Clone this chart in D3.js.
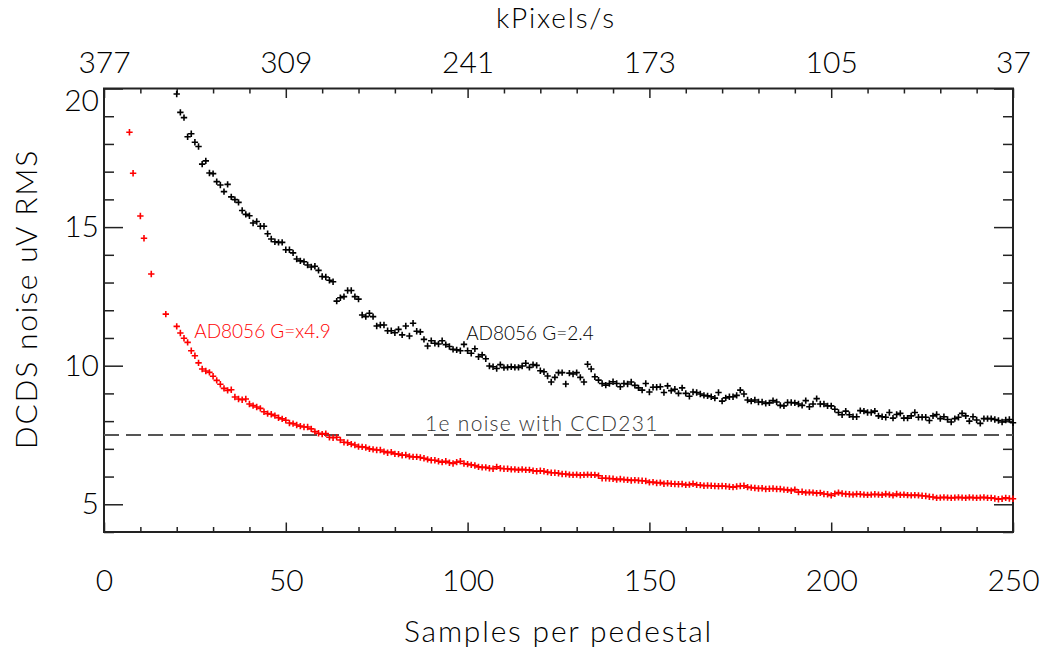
<!DOCTYPE html>
<html lang="en">
<head>
<meta charset="utf-8">
<title>DCDS noise vs samples per pedestal</title>
<style>
  body { margin: 0; background: #fff; }
  text { font-family: "Lato", "DejaVu Sans", sans-serif; font-weight: 300; }
  .axis text { font-size: 30px; fill: #000; }
  .axis line { stroke: #222; stroke-width: 1.5; }
  .axis path { display: none; }
  .frame { fill: none; stroke: #222; stroke-width: 2; }
  .axis-title { font-size: 30px; fill: #000; text-anchor: middle; letter-spacing: 1.8px; }
  .label { font-size: 19px; }
  .mark { fill: none; stroke-width: 1.6; }
</style>
</head>
<body>
<div id="chart"></div>
<script src="https://cdn.jsdelivr.net/npm/d3@7/dist/d3.min.js"></script>
<script>

// bottom axis ticks and the matching pixel rate shown on top
var xTicks = [0, 50, 100, 150, 200, 250];
var topTickLabels = ["377", "309", "241", "173", "105", "37"];
var yTicks = [5, 10, 15, 20];
var threshold = 7.5;

// AD8056 G=2.4, one point per sample from 20 to 250
var blackStart = 20;
var blackNoise = [
  19.80, 19.14, 18.95, 18.26, 18.37, 18.06, 17.91, 17.27, 17.39, 16.95,
  16.93, 16.64, 16.52, 16.28, 16.54, 16.09, 15.99, 15.89, 15.60, 15.46,
  15.41, 15.15, 15.20, 15.03, 15.03, 14.76, 14.57, 14.47, 14.45, 14.45,
  14.18, 14.18, 14.07, 13.85, 13.78, 13.75, 13.63, 13.56, 13.59, 13.44,
  13.22, 13.20, 13.08, 13.03, 12.33, 12.45, 12.49, 12.71, 12.71, 12.49,
  12.40, 11.83, 11.77, 11.89, 11.77, 11.43, 11.47, 11.47, 11.26, 11.26,
  11.19, 11.31, 11.11, 11.43, 11.07, 11.53, 11.24, 11.22, 10.95, 10.71,
  10.90, 10.81, 10.78, 10.90, 10.76, 10.69, 10.59, 10.57, 10.54, 10.77,
  10.54, 10.45, 10.61, 10.32, 10.39, 10.25, 9.99, 9.96, 9.90, 10.04,
  9.93, 9.94, 9.96, 9.94, 9.94, 9.99, 10.09, 9.94, 10.04, 10.01,
  9.82, 9.78, 9.63, 9.41, 9.58, 9.75, 9.75, 9.34, 9.73, 9.70,
  9.75, 9.58, 9.41, 10.05, 9.88, 9.60, 9.48, 9.36, 9.30, 9.36,
  9.42, 9.36, 9.24, 9.36, 9.34, 9.41, 9.29, 9.20, 9.12, 9.36,
  9.05, 9.22, 9.22, 9.24, 9.03, 9.27, 9.10, 9.15, 9.00, 9.20,
  9.00, 8.90, 9.05, 9.03, 8.98, 8.93, 8.91, 8.88, 8.83, 9.03,
  8.72, 8.84, 8.88, 8.88, 8.93, 9.12, 8.98, 8.76, 8.72, 8.76,
  8.69, 8.69, 8.64, 8.66, 8.74, 8.69, 8.57, 8.55, 8.67, 8.67,
  8.66, 8.62, 8.57, 8.74, 8.52, 8.62, 8.81, 8.62, 8.62, 8.55,
  8.55, 8.43, 8.31, 8.23, 8.36, 8.23, 8.16, 8.16, 8.38, 8.36,
  8.31, 8.31, 8.36, 8.19, 8.16, 8.14, 8.31, 8.11, 8.24, 8.28,
  8.11, 8.11, 8.19, 8.31, 8.14, 8.14, 8.14, 8.02, 8.19, 8.24,
  8.09, 8.16, 8.06, 7.97, 8.09, 8.14, 8.28, 8.19, 8.00, 8.16,
  8.04, 7.92, 8.09, 8.09, 8.09, 8.06, 8.02, 7.97, 8.04, 8.06,
  7.94
];

// AD8056 G=x4.9: a few sparse samples, then one per sample from 20 to 250
var redEarlySamples = [7, 8, 10, 11, 13, 17];
var redEarlyNoise = [18.42, 16.94, 15.40, 14.60, 13.31, 11.86];
var redStart = 20;
var redNoise = [
  11.42, 11.18, 10.99, 10.84, 10.54, 10.36, 10.10, 9.88, 9.81, 9.76,
  9.62, 9.47, 9.33, 9.18, 9.11, 9.13, 8.87, 8.80, 8.77, 8.80,
  8.62, 8.56, 8.51, 8.46, 8.34, 8.27, 8.25, 8.20, 8.12, 8.08,
  8.03, 7.93, 7.91, 7.86, 7.82, 7.79, 7.79, 7.72, 7.62, 7.56,
  7.53, 7.55, 7.42, 7.40, 7.42, 7.32, 7.24, 7.22, 7.17, 7.14,
  7.08, 7.07, 7.05, 7.00, 6.98, 6.96, 6.96, 6.90, 6.86, 6.88,
  6.82, 6.81, 6.77, 6.78, 6.73, 6.71, 6.71, 6.69, 6.66, 6.62,
  6.59, 6.59, 6.55, 6.52, 6.55, 6.50, 6.47, 6.52, 6.55, 6.47,
  6.45, 6.42, 6.40, 6.35, 6.33, 6.33, 6.30, 6.28, 6.35, 6.30,
  6.28, 6.28, 6.26, 6.26, 6.24, 6.26, 6.24, 6.24, 6.21, 6.19,
  6.21, 6.19, 6.16, 6.14, 6.14, 6.12, 6.09, 6.09, 6.07, 6.06,
  6.07, 6.05, 6.06, 6.07, 6.06, 6.06, 6.03, 5.94, 5.94, 5.93,
  5.92, 5.89, 5.91, 5.89, 5.88, 5.86, 5.87, 5.86, 5.85, 5.84,
  5.79, 5.80, 5.77, 5.78, 5.74, 5.76, 5.74, 5.73, 5.72, 5.73,
  5.70, 5.71, 5.74, 5.70, 5.69, 5.67, 5.68, 5.67, 5.66, 5.65,
  5.66, 5.65, 5.63, 5.62, 5.64, 5.66, 5.67, 5.62, 5.60, 5.59,
  5.57, 5.58, 5.55, 5.56, 5.57, 5.55, 5.55, 5.53, 5.52, 5.49,
  5.53, 5.44, 5.45, 5.42, 5.43, 5.42, 5.40, 5.41, 5.37, 5.36,
  5.32, 5.38, 5.42, 5.39, 5.37, 5.36, 5.35, 5.37, 5.36, 5.35,
  5.34, 5.35, 5.36, 5.35, 5.34, 5.37, 5.35, 5.32, 5.37, 5.34,
  5.35, 5.33, 5.32, 5.33, 5.32, 5.31, 5.30, 5.27, 5.26, 5.23,
  5.24, 5.25, 5.24, 5.23, 5.24, 5.25, 5.24, 5.23, 5.25, 5.24,
  5.23, 5.24, 5.25, 5.23, 5.23, 5.21, 5.18, 5.20, 5.23, 5.21,
  5.20
];

var margin = {top: 88.5, right: 30, bottom: 118, left: 104},
    width = 1043,
    height = 650,
    plotW = width - margin.left - margin.right,
    plotH = height - margin.top - margin.bottom;

var blackData = blackNoise.map(function(v, i){ return {s: blackStart + i, v: v}; });
var redData = redEarlySamples.map(function(s, i){ return {s: s, v: redEarlyNoise[i]}; })
  .concat(redNoise.map(function(v, i){ return {s: redStart + i, v: v}; }));

var svg = d3.select("#chart").append("svg")
    .attr("width", width)
    .attr("height", height);

var plt = svg.append("g")
    .attr("transform", "translate(" + margin.left + "," + margin.top + ")");

var xScale = d3.scaleLinear().domain([0, 250]).range([0, plotW]);
var yScale = d3.scaleLinear().domain([4, 20]).range([plotH, 0]);

var minorX = d3.range(0, 251, 10).filter(function(d){ return xTicks.indexOf(d) < 0; });
var minorY = d3.range(4, 21, 1).filter(function(d){ return yTicks.indexOf(d) < 0; });

// bottom
plt.append("g").attr("class", "x axis")
   .attr("transform", "translate(0," + plotH + ")")
   .call(d3.axisBottom(xScale).tickValues(xTicks).tickSizeInner(-9.5).tickSizeOuter(0).tickPadding(38));
plt.append("g").attr("class", "x axis")
   .attr("transform", "translate(0," + plotH + ")")
   .call(d3.axisBottom(xScale).tickValues(minorX).tickSizeInner(-5).tickSizeOuter(0).tickFormat(""));

// top
plt.append("g").attr("class", "x axis")
   .call(d3.axisTop(xScale).tickValues(xTicks).tickSizeInner(-9.5).tickSizeOuter(0).tickPadding(16)
     .tickFormat(function(d, i){ return topTickLabels[i]; }));
plt.append("g").attr("class", "x axis")
   .call(d3.axisTop(xScale).tickValues(minorX).tickSizeInner(-5).tickSizeOuter(0).tickFormat(""));

// left
var yAxisG = plt.append("g").attr("class", "y axis")
   .call(d3.axisLeft(yScale).tickValues(yTicks).tickSizeInner(-19).tickSizeOuter(0).tickPadding(5));
// top label sits a little lower, clear of the top axis numbers
yAxisG.selectAll(".tick text")
   .filter(function(d){ return d === 20; })
   .attr("dy", "0.72em");
plt.append("g").attr("class", "y axis")
   .call(d3.axisLeft(yScale).tickValues(minorY).tickSizeInner(-10).tickSizeOuter(0).tickFormat(""));

// right
plt.append("g").attr("class", "y axis")
   .attr("transform", "translate(" + plotW + ",0)")
   .call(d3.axisRight(yScale).tickValues(yTicks).tickSizeInner(-19).tickSizeOuter(0).tickFormat(""));
plt.append("g").attr("class", "y axis")
   .attr("transform", "translate(" + plotW + ",0)")
   .call(d3.axisRight(yScale).tickValues(minorY).tickSizeInner(-10).tickSizeOuter(0).tickFormat(""));

plt.append("rect")
   .attr("class", "frame")
   .attr("width", plotW)
   .attr("height", plotH);

// 1e noise line
plt.append("line")
   .attr("x1", 0).attr("x2", plotW)
   .attr("y1", yScale(threshold)).attr("y2", yScale(threshold))
   .style("stroke", "#555")
   .style("stroke-width", 2)
   .style("stroke-dasharray", "15,7");

var plus = "M-3.2,0H3.2M0,-3.2V3.2";

function drawSeries(data, colour){
  plt.append("g").selectAll("path")
     .data(data)
     .enter()
     .append("path")
     .attr("class", "mark")
     .attr("d", plus)
     .attr("transform", function(d){ return "translate(" + xScale(d.s) + "," + yScale(d.v) + ")"; })
     .style("stroke", colour);
}

drawSeries(blackData, "#000");
drawSeries(redData, "#ff0000");

plt.append("text").attr("class", "label")
   .attr("x", xScale(24.8)).attr("y", yScale(11.0))
   .style("fill", "#ff0000")
   .text("AD8056 G=x4.9");

plt.append("text").attr("class", "label")
   .attr("x", xScale(99.6)).attr("y", yScale(10.93))
   .style("fill", "#000")
   .text("AD8056 G=2.4");

plt.append("text").attr("class", "label")
   .attr("x", xScale(88.3)).attr("y", yScale(7.64))
   .style("fill", "#333")
   .style("font-size", "21px")
   .style("letter-spacing", "1.3px")
   .text("1e noise with CCD231");

svg.append("text").attr("class", "axis-title")
   .attr("x", margin.left + plotW / 2)
   .attr("y", 642)
   .text("Samples per pedestal");

svg.append("text").attr("class", "axis-title")
   .attr("x", 556)
   .attr("y", 28)
   .style("font-size", "28px")
   .text("kPixels/s");

svg.append("text").attr("class", "axis-title")
   .attr("transform", "rotate(-90)")
   .attr("x", -299)
   .attr("y", 37)
   .text("DCDS noise uV RMS");

</script>
</body>
</html>
